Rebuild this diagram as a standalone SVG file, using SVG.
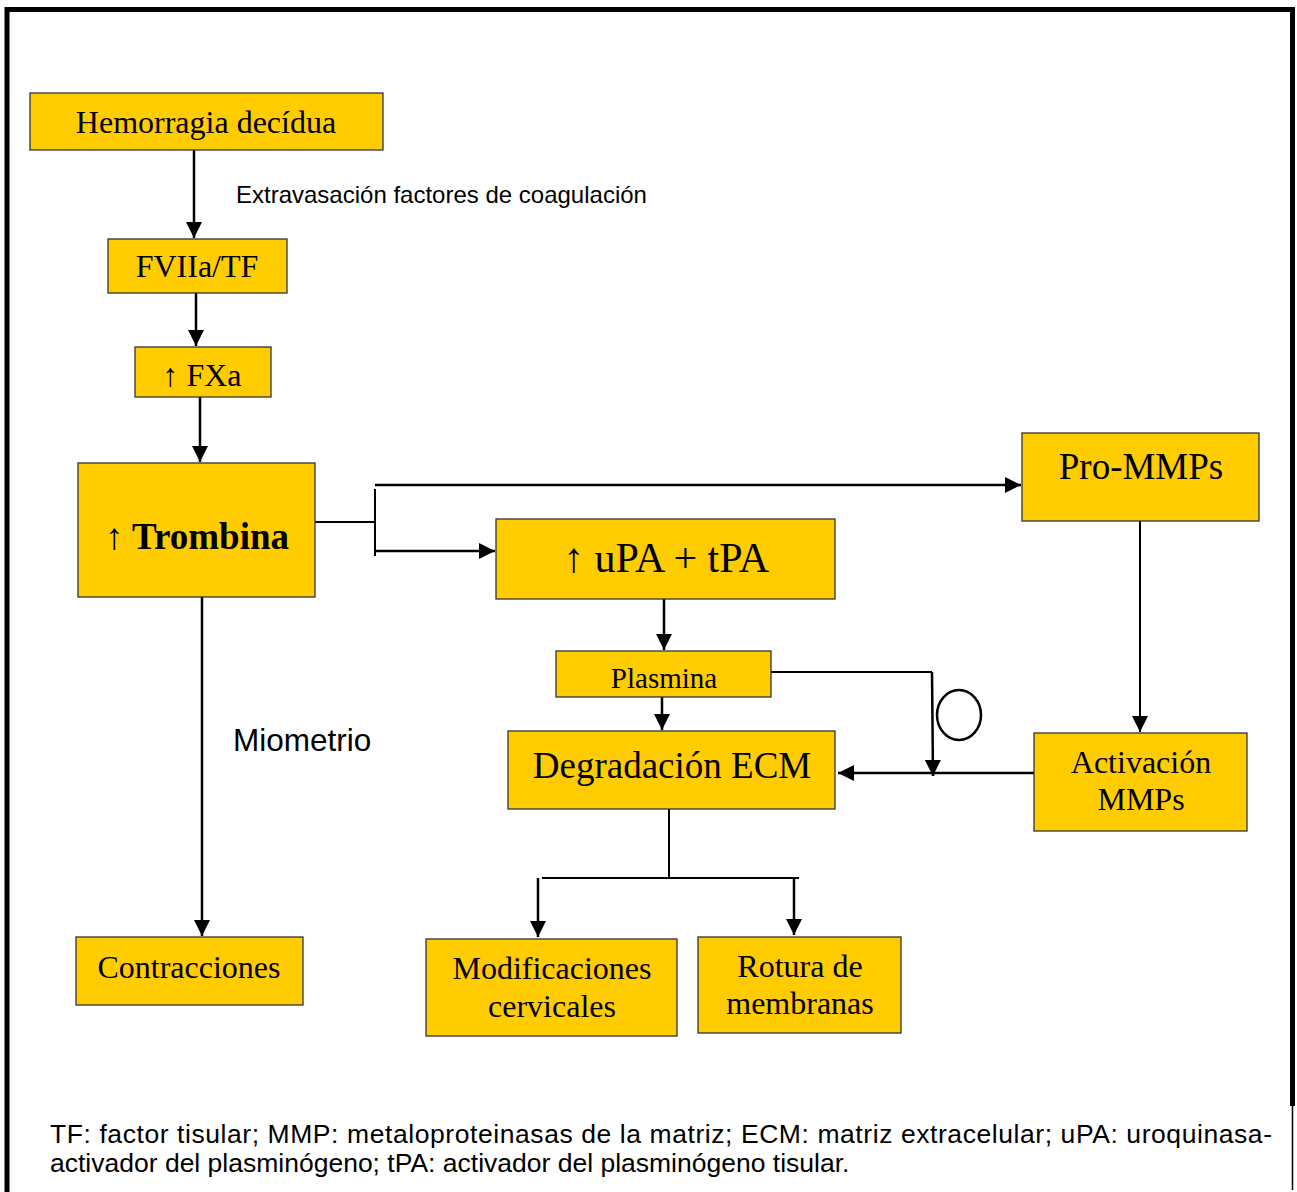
<svg xmlns="http://www.w3.org/2000/svg" width="1297" height="1192" viewBox="0 0 1297 1192">
  <style>
    .box { fill: #FFCC00; stroke: #333; stroke-width: 1.3; }
    .lbl { font-family: "Liberation Serif", "Times New Roman", serif; fill: #000; text-anchor: middle; }
    .sans { font-family: "Liberation Sans", Arial, sans-serif; fill: #000; }
    .ln { stroke: #000; stroke-width: 2.5; fill: none; }
    .thin { stroke: #000; stroke-width: 2; fill: none; }
  </style>
  <defs>
    <marker id="arrow" viewBox="0 0 16 16" refX="16" refY="8" markerWidth="16" markerHeight="16" markerUnits="userSpaceOnUse" orient="auto">
      <path d="M0,0 L16,8 L0,16 z" fill="#000"/>
    </marker>
  </defs>

  <rect width="1297" height="1192" fill="#fff"/>

  <!-- outer frame -->
  <g id="frame">
    <path d="M7,1192 V9.5 H1292.5 V1106" stroke="#000" stroke-width="5" fill="none"/>
    <line x1="1292.5" y1="1106" x2="1292.5" y2="1190" stroke="#000" stroke-width="1.5"/>
  </g>

  <!-- connectors -->
  <g id="connectors">
    <line class="ln" x1="194" y1="150" x2="194" y2="238" marker-end="url(#arrow)"/>
    <line class="ln" x1="196" y1="293" x2="196" y2="346" marker-end="url(#arrow)"/>
    <line class="ln" x1="200" y1="397" x2="200" y2="462" marker-end="url(#arrow)"/>
    <!-- thrombin branch -->
    <line class="thin" x1="315" y1="522" x2="375" y2="522"/>
    <line class="thin" x1="375" y1="489" x2="375" y2="556"/>
    <line class="ln" x1="375" y1="485" x2="1021" y2="485" marker-end="url(#arrow)"/>
    <line class="ln" x1="375" y1="551" x2="495" y2="551" marker-end="url(#arrow)"/>
    <line class="ln" x1="202" y1="597" x2="202" y2="936" marker-end="url(#arrow)"/>
    <line class="ln" x1="664" y1="599" x2="664" y2="650" marker-end="url(#arrow)"/>
    <line class="ln" x1="662" y1="697" x2="662" y2="730" marker-end="url(#arrow)"/>
    <!-- plasmin inhibition path -->
    <polyline class="thin" points="771,672 932,672"/>
    <line class="ln" x1="932" y1="672" x2="933" y2="776" marker-end="url(#arrow)"/>
    <ellipse cx="959" cy="715" rx="22" ry="25" fill="none" stroke="#000" stroke-width="2.5"/>
    <line class="ln" x1="1040" y1="773" x2="838" y2="773" marker-end="url(#arrow)"/>
    <line class="thin" x1="1140" y1="521" x2="1140" y2="732" marker-end="url(#arrow)"/>
    <!-- ECM split -->
    <line class="thin" x1="669" y1="809" x2="669" y2="878"/>
    <line class="thin" x1="542" y1="878" x2="799" y2="878"/>
    <line class="ln" x1="538" y1="878" x2="538" y2="937" marker-end="url(#arrow)"/>
    <line class="ln" x1="794" y1="878" x2="794" y2="935" marker-end="url(#arrow)"/>
  </g>

  <g id="hemorragia">
    <rect class="box" x="30" y="93" width="353" height="57"/>
    <text class="lbl" x="206" y="133" font-size="32">Hemorragia decídua</text>
  </g>
  <text class="sans" x="236" y="203" font-size="24">Extravasación factores de coagulación</text>

  <g id="fviia">
    <rect class="box" x="108" y="239" width="179" height="54"/>
    <text class="lbl" x="197" y="277" font-size="32">FVIIa/TF</text>
  </g>

  <g id="fxa">
    <rect class="box" x="135" y="347" width="136" height="50"/>
    <text class="lbl" x="202" y="386" font-size="32">↑ FXa</text>
  </g>

  <g id="trombina">
    <rect class="box" x="78" y="463" width="237" height="134"/>
    <text class="lbl" x="197" y="549" font-size="37" font-weight="bold">↑ Trombina</text>
  </g>

  <g id="pro-mmps">
    <rect class="box" x="1022" y="433" width="237" height="88"/>
    <text class="lbl" x="1141" y="479" font-size="37">Pro-MMPs</text>
  </g>

  <g id="upa-tpa">
    <rect class="box" x="496" y="519" width="339" height="80"/>
    <text class="lbl" x="666" y="572" font-size="42">↑ uPA + tPA</text>
  </g>

  <g id="plasmina">
    <rect class="box" x="556" y="651" width="215" height="46"/>
    <text class="lbl" x="664" y="688" font-size="29">Plasmina</text>
  </g>

  <g id="degradacion">
    <rect class="box" x="508" y="731" width="327" height="78"/>
    <text class="lbl" x="672" y="778" font-size="37">Degradación ECM</text>
  </g>

  <g id="activacion">
    <rect class="box" x="1034" y="733" width="213" height="98"/>
    <text class="lbl" x="1141" y="773" font-size="32">Activación</text>
    <text class="lbl" x="1141" y="810" font-size="32">MMPs</text>
  </g>

  <text class="sans" x="233" y="751" font-size="31.5">Miometrio</text>

  <g id="contracciones">
    <rect class="box" x="76" y="937" width="227" height="68"/>
    <text class="lbl" x="189" y="978" font-size="32">Contracciones</text>
  </g>

  <g id="modificaciones">
    <rect class="box" x="426" y="939" width="251" height="97"/>
    <text class="lbl" x="552" y="979" font-size="32">Modificaciones</text>
    <text class="lbl" x="552" y="1017" font-size="32">cervicales</text>
  </g>

  <g id="rotura">
    <rect class="box" x="698" y="937" width="203" height="96"/>
    <text class="lbl" x="800" y="977" font-size="32">Rotura de</text>
    <text class="lbl" x="800" y="1014" font-size="32">membranas</text>
  </g>

  <!-- abbreviations -->
  <g id="footnote" class="sans" font-size="26.5">
    <text x="50" y="1143" textLength="1222" lengthAdjust="spacing">TF: factor tisular; MMP: metaloproteinasas de la matriz; ECM: matriz extracelular; uPA: uroquinasa-</text>
    <text x="50" y="1172">activador del plasminógeno; tPA: activador del plasminógeno tisular.</text>
  </g>
</svg>
